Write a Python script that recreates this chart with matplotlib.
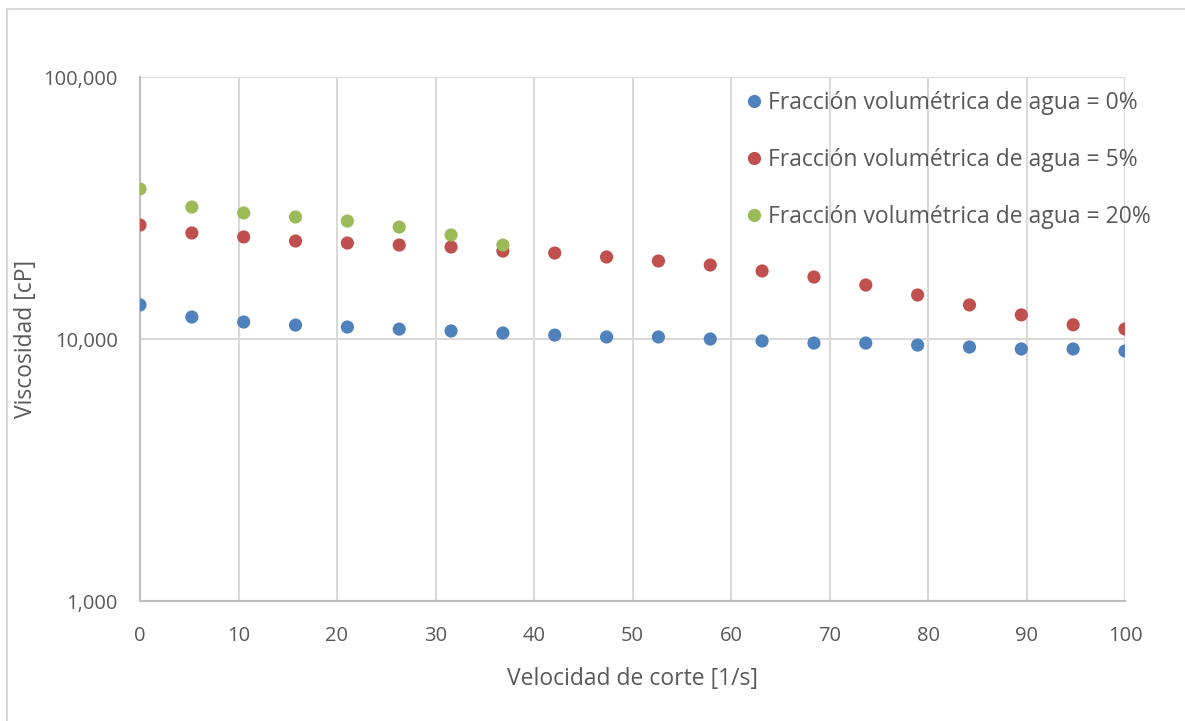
import numpy as np
import matplotlib.pyplot as plt
from matplotlib.lines import Line2D
from matplotlib.patches import Rectangle
from matplotlib.ticker import FixedLocator, FuncFormatter, NullLocator

plt.rcParams['font.family'] = ['Open Sans', 'DejaVu Sans']

# velocidad de corte: 20 puntos entre 0 y 100 1/s
shear_rate = np.linspace(0, 100, 20)

visc_0 = [13490, 12130, 11610, 11300, 11110, 10910, 10730, 10540, 10350, 10180,
          10180, 10000, 9830, 9650, 9650, 9480, 9320, 9160, 9160, 9000]
visc_5 = [27230, 25390, 24520, 23660, 23240, 22840, 22440, 21660, 21290, 20560,
          19850, 19160, 18180, 17240, 16070, 14720, 13490, 12360, 11330, 10920]
visc_20 = [37380, 31890, 30270, 29220, 28200, 26740, 24940, 22840]

labels = ['Fracción volumétrica de agua = 0%',
          'Fracción volumétrica de agua = 5%',
          'Fracción volumétrica de agua = 20%']
colors = ['#4F81BD', '#C0504D', '#9BBB59']

text_color = '#595959'
grid_color = '#D9D9D9'
axis_color = '#BFBFBF'

fig = plt.figure(figsize=(11.85, 7.21), dpi=100)
ax = fig.add_axes([140 / 1185, 1 - 601 / 721, 985 / 1185, 524 / 721])

# marco exterior del gráfico
fig.patches.append(Rectangle((7 / 1185, -0.01), 1.0, 1 - 9 / 721 + 0.01,
                             transform=fig.transFigure, fill=False,
                             edgecolor=grid_color, linewidth=1.5))

series = [(shear_rate, visc_0), (shear_rate, visc_5), (shear_rate[:len(visc_20)], visc_20)]
for (x, y), c in zip(series, colors):
    ax.scatter(x, y, s=90, color=c, edgecolors='none', zorder=3)

ax.set_yscale('log')
ax.set_ylim(1000, 100000)
ax.set_xlim(0, 100)
ax.xaxis.set_major_locator(FixedLocator(np.arange(0, 101, 10)))
ax.yaxis.set_major_locator(FixedLocator([1000, 10000, 100000]))
ax.yaxis.set_minor_locator(NullLocator())
ax.yaxis.set_major_formatter(FuncFormatter(lambda v, p: f'{int(v):,}'))

ax.grid(True, color=grid_color, linewidth=1.5, zorder=0)
ax.set_axisbelow(True)
for side in ['top', 'right']:
    ax.spines[side].set_visible(False)
for side in ['left', 'bottom']:
    ax.spines[side].set_color(axis_color)
    ax.spines[side].set_linewidth(1.5)
ax.tick_params(length=0, labelsize=14.5, colors=text_color)
ax.tick_params(axis='x', pad=18)
ax.tick_params(axis='y', pad=16)

ax.set_xlabel('Velocidad de corte [1/s]', fontsize=16.5, color=text_color, labelpad=15)
ax.set_ylabel('Viscosidad [cP]', fontsize=16.5, color=text_color, labelpad=4)

handles = [Line2D([], [], linestyle='none', marker='o', markersize=9.5,
                  markerfacecolor=c, markeredgecolor='none') for c in colors]
leg = ax.legend(handles, labels, loc='upper left', bbox_to_anchor=(0.598, 1.0),
                frameon=False, fontsize=16.5, labelspacing=1.45, handletextpad=0.1,
                handlelength=1.0, borderaxespad=0.2)
for t in leg.get_texts():
    t.set_color(text_color)

fig.savefig('out.png', dpi=100)
